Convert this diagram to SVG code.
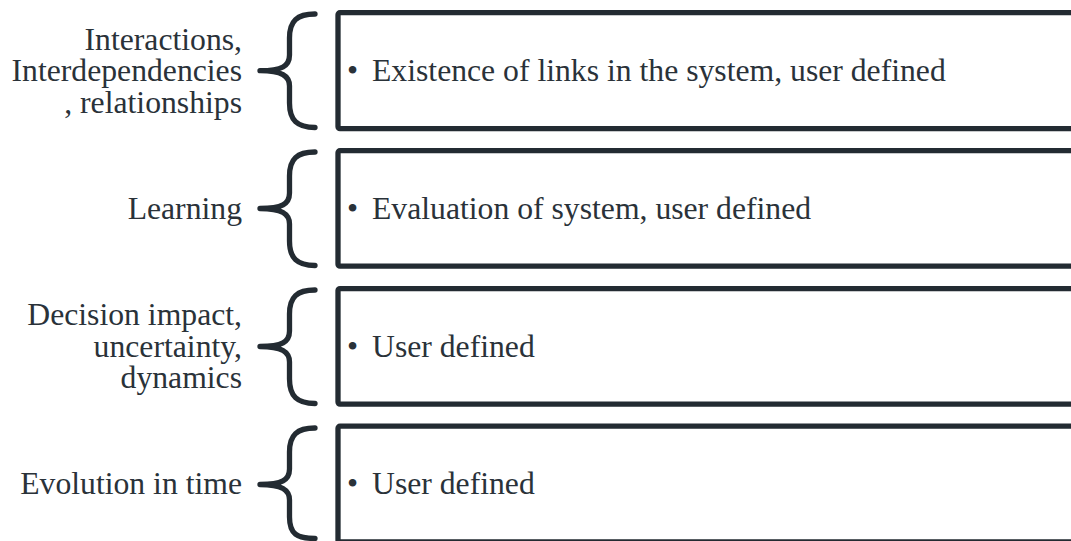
<svg xmlns="http://www.w3.org/2000/svg" width="1071" height="541" viewBox="0 0 1071 541">
<style>
.box{fill:#ffffff;stroke:#232b32;stroke-width:5.3;stroke-linejoin:round}
.brace{fill:none;stroke:#232b32;stroke-width:5.3;stroke-linecap:round;stroke-linejoin:round}
.lbl{font-family:"Liberation Serif","Times New Roman",serif;font-size:31.7px;fill:#2a3239;text-anchor:end}
.txt{font-family:"Liberation Serif","Times New Roman",serif;font-size:31.7px;fill:#2a3239}
</style>
<rect width="1071" height="541" fill="#ffffff"/>
<g id="connectors">
<path class="brace" d="M315 14 C297 14 289.5 21 289.5 38 L289.5 55 C289.5 66 282 70.7 260 70.7 C282 70.7 289.5 76 289.5 86 L289.5 103 C289.5 120 297 127.5 315 127.5"/>
<path class="brace" d="M315 152 C297 152 289.5 159 289.5 176 L289.5 193 C289.5 204 282 208.5 260 208.5 C282 208.5 289.5 214 289.5 224 L289.5 241 C289.5 258 297 265.5 315 265.5"/>
<path class="brace" d="M315 290 C297 290 289.5 297 289.5 314 L289.5 331 C289.5 342 282 346.5 260 346.5 C282 346.5 289.5 352 289.5 362 L289.5 379 C289.5 396 297 403.5 315 403.5"/>
<path class="brace" d="M315 428 C297 428 289.5 435 289.5 452 L289.5 469 C289.5 480 282 484.5 260 484.5 C282 484.5 289.5 490 289.5 500 L289.5 517 C289.5 534 297 538.5 315 538.5"/>
</g>
<g id="node1">
<rect class="box" x="338" y="12.7" width="760" height="116" rx="2"/>
<text class="lbl" x="242" y="49.5">Interactions,</text>
<text class="lbl" x="242" y="81">Interdependencies</text>
<text class="lbl" x="242" y="112.5">, relationships</text>
<text class="txt" x="347" y="81">•</text>
<text class="txt" x="372" y="81">Existence of links in the system, user defined</text>
</g>
<g id="node2">
<rect class="box" x="338" y="150.7" width="760" height="115.5" rx="2"/>
<text class="lbl" x="242" y="219">Learning</text>
<text class="txt" x="347" y="219">•</text>
<text class="txt" x="372" y="219">Evaluation of system, user defined</text>
</g>
<g id="node3">
<rect class="box" x="338" y="288.6" width="760" height="115.5" rx="2"/>
<text class="lbl" x="242" y="324.5">Decision impact,</text>
<text class="lbl" x="242" y="356.5">uncertainty,</text>
<text class="lbl" x="242" y="388">dynamics</text>
<text class="txt" x="347" y="357">•</text>
<text class="txt" x="372" y="357">User defined</text>
</g>
<g id="node4">
<rect class="box" x="338" y="426.2" width="760" height="115.8" rx="2"/>
<text class="lbl" x="242" y="494">Evolution in time</text>
<text class="txt" x="347" y="494">•</text>
<text class="txt" x="372" y="494">User defined</text>
</g>
</svg>
